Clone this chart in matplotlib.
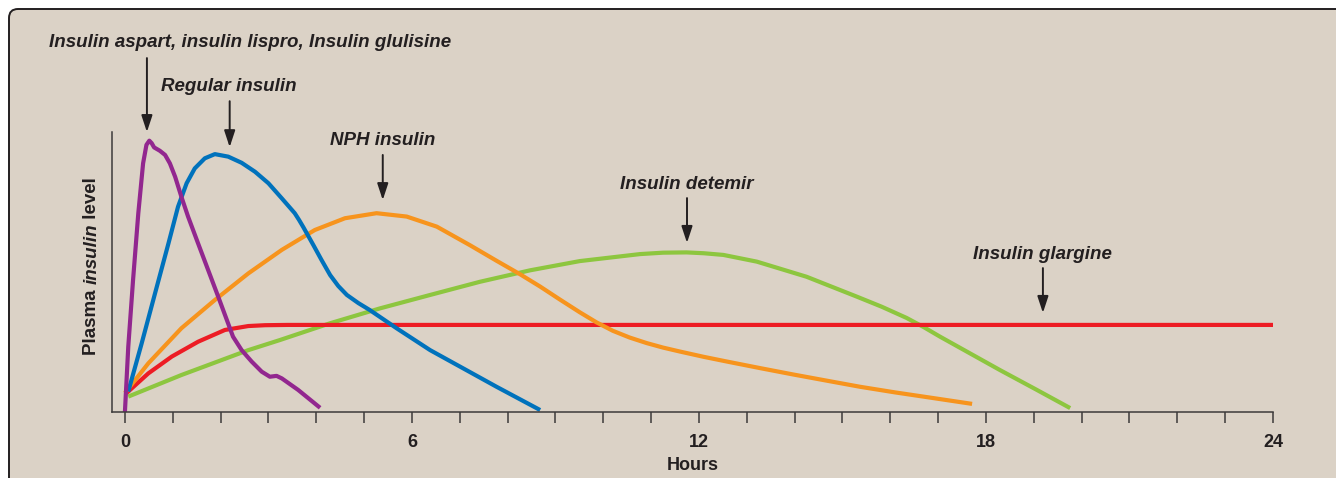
import matplotlib
matplotlib.use("Agg")
import matplotlib.pyplot as plt
from matplotlib.patches import FancyBboxPatch
from matplotlib.transforms import IdentityTransform

# hours after injection / relative plasma insulin level (0-100)
rapid_h = [0, 0.07, 0.17, 0.28, 0.38, 0.45, 0.51, 0.56, 0.61, 0.73, 0.84, 0.94,
           1.05, 1.18, 1.32, 1.53, 1.74, 1.95, 2.13, 2.26, 2.44, 2.65, 2.86,
           3.03, 3.17, 3.28, 3.62, 4.08]
rapid_v = [0.0, 23.3, 47.1, 71.0, 88.8, 95.4, 96.9, 96.0, 94.5, 93.3, 91.8, 88.8,
           84.0, 76.9, 69.8, 60.2, 50.7, 41.2, 32.9, 26.9, 22.1, 18.0, 14.4,
           12.6, 12.9, 12.0, 7.9, 1.5]

regular_h = [0.07, 0.35, 0.63, 0.91, 1.11, 1.29, 1.46, 1.67, 1.88, 2.16, 2.44,
             2.72, 3.00, 3.28, 3.55, 3.64, 3.73, 3.94, 4.11, 4.29, 4.46, 4.64, 4.88,
             5.12, 5.68, 6.38, 7.07, 7.77, 8.68]
regular_v = [7.3, 24.5, 42.4, 60.2, 73.3, 81.7, 87.0, 90.6, 92.1, 91.2, 89.0,
             85.8, 81.7, 76.3, 71.0, 68.6, 66.0, 59.6, 54.3, 48.9, 45.0, 41.8, 38.9,
             36.4, 29.9, 22.1, 15.6, 9.0, 0.7]

nph_h = [0, 0.49, 1.18, 1.88, 2.58, 3.28, 3.97, 4.60, 5.26, 5.89, 6.52, 7.21,
         7.77, 8.26, 8.68, 9.09, 9.51, 9.86, 10.2, 10.55, 10.91, 11.25, 11.6,
         12.1, 12.59, 13.3, 13.97, 14.7, 15.37, 16.1, 16.77, 17.71]
nph_v = [6.8, 17.4, 29.9, 40.0, 49.5, 57.9, 65.0, 69.2, 71.0, 69.8, 66.2, 59.6,
         54.0, 49.2, 44.8, 40.2, 35.6, 32.0, 29.0, 26.6, 24.6, 23.0, 21.6,
         19.7, 18.0, 15.6, 13.4, 11.1, 9.0, 7.0, 5.3, 2.9]

glargine_h = [0.03, 0.49, 0.98, 1.53, 2.09, 2.58, 2.93, 3.4, 24]
glargine_v = [6.7, 13.8, 19.8, 25.1, 29.3, 30.7, 31.0, 31.1, 31.1]

detemir_h = [0.07, 1.18, 2.58, 3.24, 4.29, 5.33, 6.38, 7.42, 8.47, 9.51, 10.77,
             11.25, 11.74, 12.1, 12.51, 13.21, 14.25, 15.30, 15.82, 16.34, 16.7,
             17.04, 17.46, 18.29, 19.03, 19.76]
detemir_v = [5.5, 13.2, 22.1, 25.7, 31.7, 37.0, 41.8, 46.5, 50.6, 53.9, 56.4,
             56.9, 57.0, 56.7, 56.1, 53.7, 48.3, 41.2, 37.6, 33.6, 30.3,
             26.9, 22.9, 15.0, 8.2, 1.4]

# label text, label position, arrow x, arrow top, arrow tip
labels = ["Insulin aspart, insulin lispro, Insulin glulisine", "Regular insulin",
          "NPH insulin", "Insulin detemir", "Insulin glargine"]
label_x = [2.61, 2.17, 5.38, 11.75, 19.19]
label_y = [131.8, 116.4, 96.8, 81.1, 56.4]
arrow_x = [0.46, 2.19, 5.39, 11.75, 19.19]
arrow_top = [126.4, 111.0, 91.8, 76.4, 51.4]
arrow_tip = [100.0, 94.6, 75.7, 60.4, 35.4]

xticks = list(range(0, 25))
xticklabels = [str(t) if t % 6 == 0 else "" for t in xticks]

bg = "#dbd2c6"
ink = "#231f20"
font = "Liberation Sans"

fig = plt.figure(figsize=(13.36, 4.78), dpi=100)
fig.patch.set_facecolor("white")
panel = FancyBboxPatch((9, -30), 1500, 499, boxstyle="round,pad=0,rounding_size=9",
                       transform=IdentityTransform(), facecolor=bg,
                       edgecolor=ink, linewidth=1.4, zorder=-10)
fig.patches.append(panel)

ax = fig.add_axes([112 / 1336, 66 / 478, (1273 - 112) / 1336, 280 / 478])
ax.set_zorder(1)
ax.set_facecolor("none")
ax.set_xlim(-0.27, 24)
ax.set_ylim(0, 100)

lw = 3.0
for h, v, c in [(detemir_h, detemir_v, "#8dc63f"),
                (glargine_h, glargine_v, "#ed1c24"),
                (nph_h, nph_v, "#f7941d"),
                (regular_h, regular_v, "#0072bc"),
                (rapid_h, rapid_v, "#92278f")]:
    ax.plot(h, v, color=c, lw=lw, solid_joinstyle="round", solid_capstyle="butt",
            clip_on=False)

for s in ["top", "right"]:
    ax.spines[s].set_visible(False)
for s in ["left", "bottom"]:
    ax.spines[s].set_color("#3c3a3a")
    ax.spines[s].set_linewidth(1.1)

ax.set_yticks([])
ax.set_xticks(xticks)
ax.set_xticklabels(xticklabels)
ax.tick_params(axis="x", length=8, width=1.1, color="#3c3a3a", pad=8,
               labelsize=13, labelcolor=ink)
for t in ax.get_xticklabels():
    t.set_fontweight("bold")
    t.set_family(font)

ax.set_xlabel("Hours", fontsize=13, fontweight="bold", color=ink,
              family=font, labelpad=4)

for txt, tx, ty, axx, at, tip in zip(labels, label_x, label_y, arrow_x, arrow_top, arrow_tip):
    ax.text(tx, ty, txt, ha="center", va="center", fontsize=13.5, fontweight="bold",
            fontstyle="italic", color=ink, family=font, clip_on=False)
    ax.annotate("", xy=(axx, tip), xytext=(axx, at), annotation_clip=False,
                arrowprops=dict(arrowstyle="-|>,head_length=1.0,head_width=0.33",
                                color=ink, lw=1.4, shrinkA=0, shrinkB=0))

# y label with italic middle word, stacked piece by piece
parts = [("Plasma ", "normal"), ("insulin", "italic"), (" level", "normal")]
fig.canvas.draw()
renderer = fig.canvas.get_renderer()
pieces = []
total = 0
for s, style in parts:
    t = fig.text(0, 0, s, rotation=90, fontsize=13.5, fontweight="bold", fontstyle=style,
                 color=ink, family=font, ha="center", va="bottom",
                 transform=IdentityTransform())
    ext = t.get_window_extent(renderer)
    pieces.append((t, ext.height))
    total += ext.height
cx, cy = 92, 478 - 266
y0 = cy - total / 2
for t, hgt in pieces:
    t.set_position((cx, y0))
    y0 += hgt

fig.savefig("out.png", dpi=100, facecolor="white")
